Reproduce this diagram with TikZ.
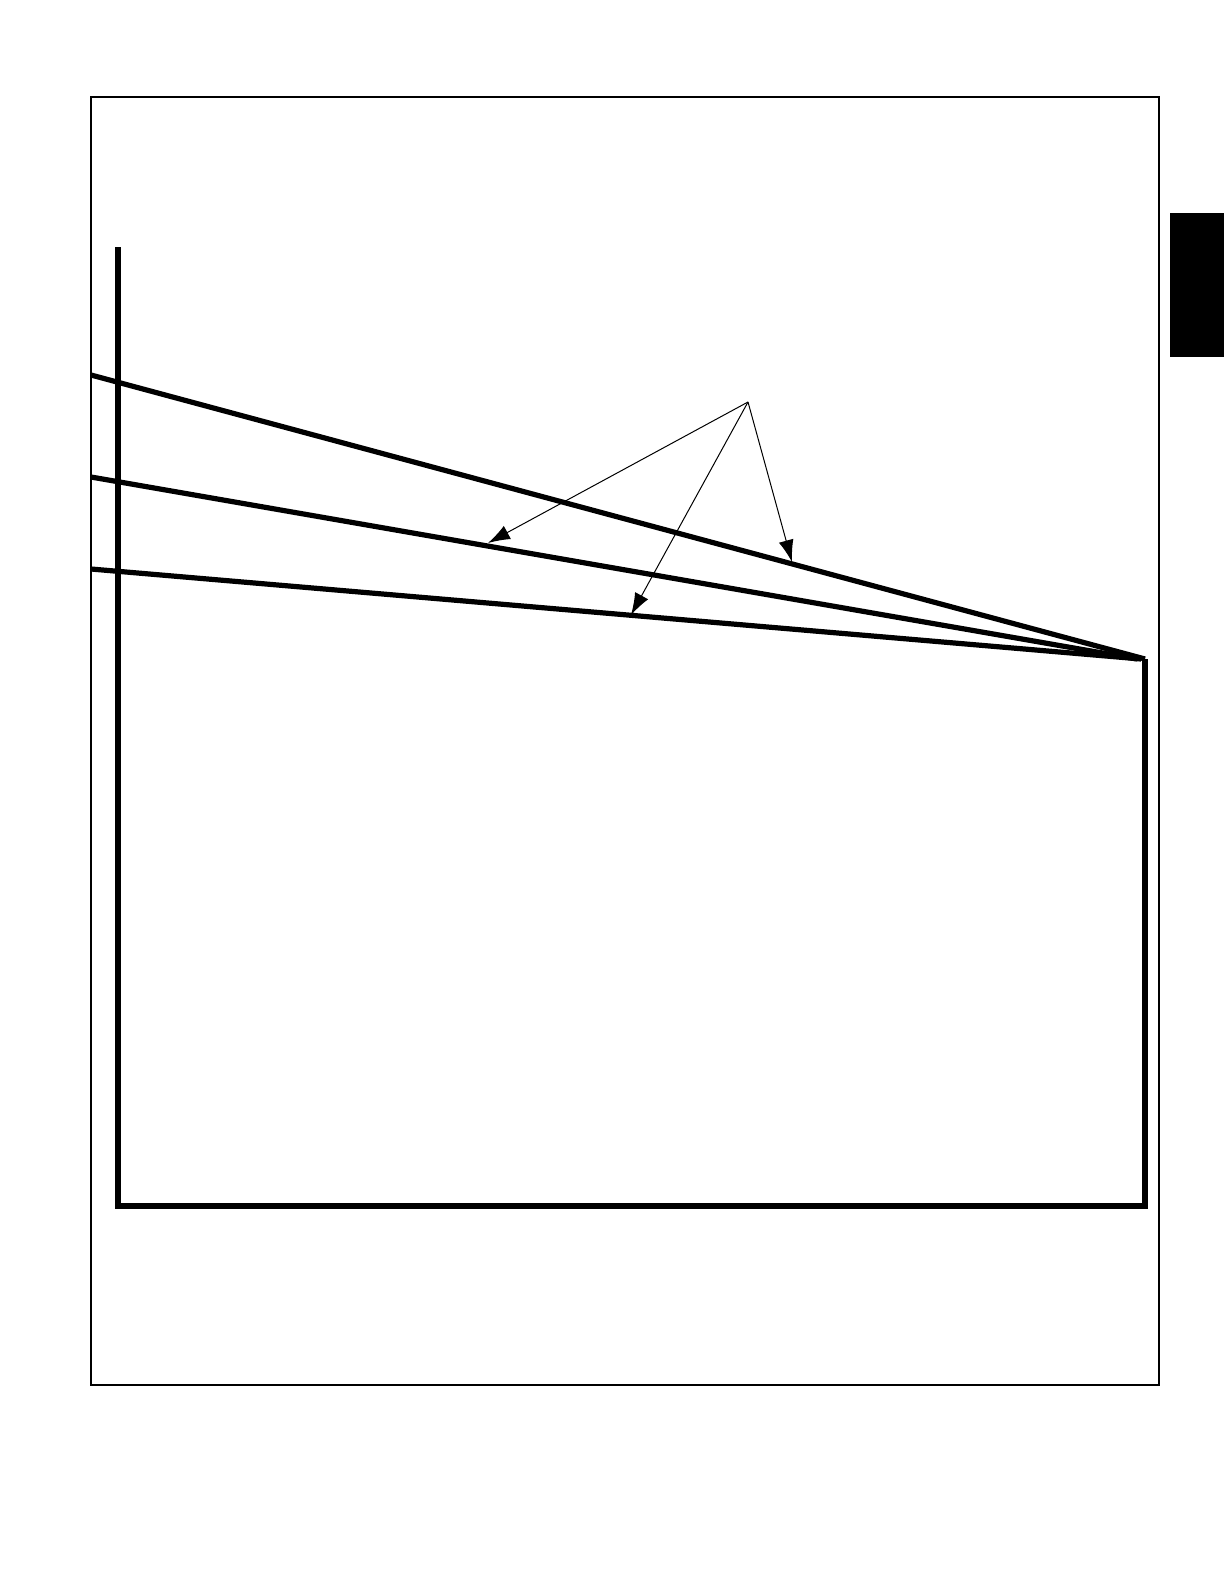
\documentclass[tikz,border=0pt]{standalone}
\usepackage{tikz}
\usetikzlibrary{arrows.meta}
\tikzset{
        % Page frame
        frame_line/.style={black, line width=0.75pt},
        % Heavy outline
        heavy_line/.style={black, line width=2.6pt, line join=miter},
        % Leader arrows
        leader/.style={black, line width=0.5pt, -{Latex[length=11pt,width=7.5pt]}},
        % Side tab
        side_tab/.style={fill=black, draw=none}
}
\begin{document}
\begin{tikzpicture}[x=0.5pt, y=-0.5pt]
    \useasboundingbox (0,0) rectangle (1224,1584);
    % frame and tab
    \draw[frame_line] (91,97) rectangle (1159,1385);
    \fill[side_tab] (1170,213) rectangle (1224,357);
    % named points
    \coordinate (post_top) at (118,247);
    \coordinate (base_left) at (118,1206);
    \coordinate (base_right) at (1145,1206);
    \coordinate (apex) at (1145,659);
    \coordinate (upper_in) at (91,375);
    \coordinate (middle_in) at (91,477);
    \coordinate (lower_in) at (91,569);
    \coordinate (label_pt) at (748,402);
    \coordinate (tip_a) at (488,543);
    \coordinate (tip_b) at (631,615);
    \coordinate (tip_c) at (792,562);
    % heavy outline
    \draw[heavy_line] (post_top) -- (base_left) -- (base_right) -- (apex);
    \draw[heavy_line] (upper_in) -- (apex);
    \draw[heavy_line] (middle_in) -- ([xshift=-4]apex);
    \draw[heavy_line] (lower_in) -- ([xshift=-2]apex);
    % leaders
    \draw[leader] (label_pt) -- (tip_a);
    \draw[leader] (label_pt) -- (tip_b);
    \draw[leader] (label_pt) -- (tip_c);
\end{tikzpicture}
\end{document}
